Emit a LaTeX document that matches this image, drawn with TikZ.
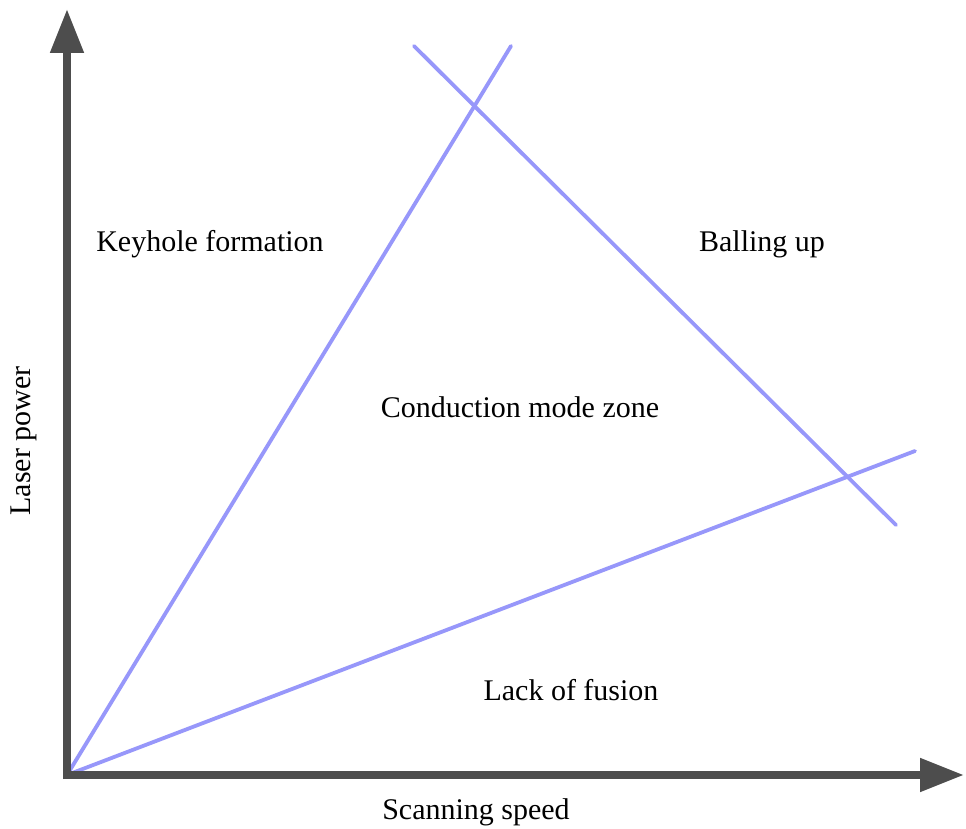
\documentclass[tikz,border=0pt]{standalone}
\usepackage{fontspec}
\setmainfont{Liberation Serif}
\usetikzlibrary{arrows.meta}
\definecolor{axisgray}{HTML}{4D4D4D}
\definecolor{zoneblue}{HTML}{9797FA}
\tikzset{
  axisline/.style={draw=axisgray, line width=8pt, -{Triangle[length=44pt,width=32pt]}},
  boundary/.style={draw=zoneblue, line width=3.8pt, line cap=round},
  lbl/.style={font=\fontsize{30}{35}\selectfont, text=black, inner sep=0pt}
}
\begin{document}
\begin{tikzpicture}[x=1pt,y=-1pt]
\useasboundingbox[fill=white] (0,0) rectangle (966,829);
\coordinate (O) at (67,775);
\coordinate (Ytop) at (67,9);
\coordinate (Xend) at (964,775);
\coordinate (A1) at (511,46);
\coordinate (B0) at (414,46);
\coordinate (B1) at (896,525);
\coordinate (C1) at (915,451);
\draw[boundary] (O) -- (A1);
\draw[boundary] (B0) -- (B1);
\draw[boundary] (O) -- (C1);
\draw[axisline] (67,779) -- (Ytop);
\draw[axisline] (63,775) -- (Xend);
\node[lbl] (keyhole) at (210,244) {Keyhole formation};
\node[lbl] (balling) at (762,244) {Balling up};
\node[lbl] (conduction) at (520,407) {Conduction mode zone};
\node[lbl] (lack) at (571,690) {Lack of fusion};
\node[lbl] (xlabel) at (476,812) {Scanning speed};
\node[lbl, rotate=90] (ylabel) at (24,441) {Laser power};
\end{tikzpicture}
\end{document}
